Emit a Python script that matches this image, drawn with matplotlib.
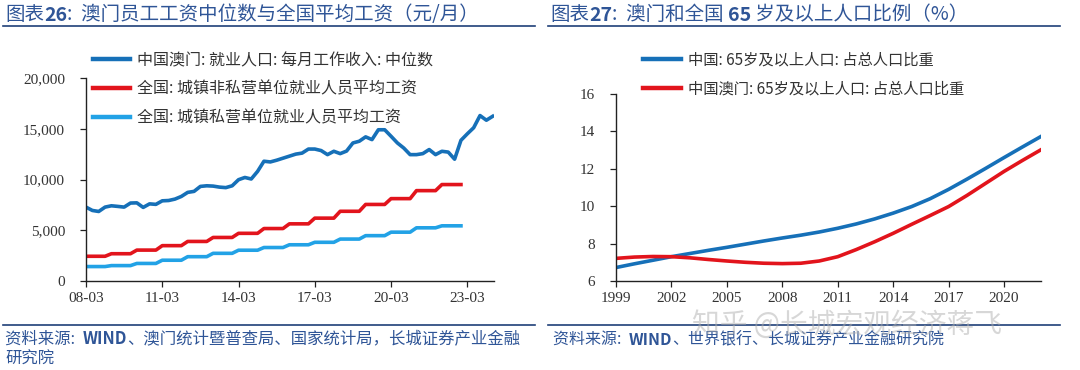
import numpy as np
import matplotlib
matplotlib.use("Agg")
import matplotlib.pyplot as plt
from matplotlib.lines import Line2D

# ---------------- data ----------------
# Macau median monthly income of employed population (MOP), quarterly 2008Q1..2024Q1
macau_median = [7280, 6950, 6850, 7280, 7410, 7350, 7280, 7680, 7700, 7250,
                7600, 7550, 7900, 7930, 8070, 8330, 8730, 8830, 9320, 9380,
                9350, 9250, 9200, 9380, 9980, 10200, 10050, 10800, 11800, 11730,
                11900, 12100, 12300, 12500, 12600, 13000, 13000, 12850, 12450, 12780,
                12550, 12800, 13600, 13770, 14200, 13930, 14900, 14900, 14260, 13600,
                13100, 12450, 12450, 12550, 12950, 12450, 12780, 12700, 12000, 13860,
                14500, 15100, 16300, 15840, 16230]
# National average monthly wage (yuan/month), annual 2008..2022
wage_years = list(range(2008, 2023))
nonprivate_wage = [2436, 2687, 3045, 3483, 3897, 4290, 4697, 5169, 5631, 6193,
                   6868, 7542, 8115, 8903, 9502]
private_wage = [1423, 1517, 1730, 2046, 2396, 2726, 3033, 3299, 3569, 3813,
                4131, 4467, 4811, 5240, 5436]
left_yticks = [0, 5000, 10000, 15000, 20000]
left_yticklabels = ["0", "5,000", "10,000", "15,000", "20,000"]
left_xticklabels = ["08-03", "11-03", "14-03", "17-03", "20-03", "23-03"]
left_labels = ["中国澳门: 就业人口: 每月工作收入: 中位数",
               "全国: 城镇非私营单位就业人员平均工资",
               "全国: 城镇私营单位就业人员平均工资"]

# Share of population aged 65+ (%)
pop_years = list(range(1999, 2023))
china_65 = [6.72, 6.92, 7.11, 7.30, 7.47, 7.64, 7.80, 7.97, 8.14, 8.30,
            8.45, 8.62, 8.82, 9.05, 9.32, 9.63, 9.98, 10.40, 10.90, 11.45,
            12.02, 12.60, 13.17, 13.73]
macau_65 = [7.21, 7.28, 7.31, 7.30, 7.24, 7.15, 7.07, 7.00, 6.95, 6.93,
            6.95, 7.07, 7.30, 7.68, 8.10, 8.55, 9.03, 9.50, 9.98, 10.58,
            11.22, 11.86, 12.45, 13.02]
right_yticks = [6, 8, 10, 12, 14, 16]
right_xticks = [1999, 2002, 2005, 2008, 2011, 2014, 2017, 2020]
right_labels = ["中国: 65岁及以上人口: 占总人口比重",
                "中国澳门: 65岁及以上人口: 占总人口比重"]

# ---------------- style ----------------
SERIF = ["Liberation Serif", "Noto Sans CJK SC"]
CJK = ["Noto Sans CJK SC", "DejaVu Sans"]
plt.rcParams["font.family"] = SERIF
BLUE_D = "#1670b8"
RED = "#e2141c"
BLUE_L = "#22a2e6"
TXT_BLUE = "#2f5597"
LINE_BLUE = "#1f3f78"

W, H = 1080, 370
fig = plt.figure(figsize=(W / 100, H / 100), dpi=100)


def fx(px):
    return px / W


def fy(py):
    return 1 - py / H


def style_axes(ax):
    for s in ["top", "right"]:
        ax.spines[s].set_visible(False)
    for s in ["left", "bottom"]:
        ax.spines[s].set_linewidth(1.0)
        ax.spines[s].set_color("#222222")
    ax.tick_params(axis="both", direction="out", length=4, width=0.9,
                   colors="#222222", labelsize=11, labelcolor="#333333")
    ax.tick_params(axis="y", pad=11)
    ax.tick_params(axis="x", pad=4)


# ---------------- left chart ----------------
axL = fig.add_axes([fx(86), fy(281), fx(494 - 86), fy(78) - fy(281)])
q = np.arange(len(macau_median))
qw = np.arange(len(wage_years) * 4)
axL.plot(q, macau_median, color=BLUE_D, lw=2.6, solid_joinstyle="round")
axL.plot(qw, np.repeat(nonprivate_wage, 4), color=RED, lw=2.6, solid_joinstyle="round")
axL.plot(qw, np.repeat(private_wage, 4), color=BLUE_L, lw=2.6, solid_joinstyle="round")
axL.set_xlim(0, 64.2)
axL.set_ylim(0, 20000)
axL.set_yticks(left_yticks)
axL.set_yticklabels(left_yticklabels)
axL.set_xticks(np.arange(0, 61, 12))
axL.set_xticklabels(left_xticklabels)
style_axes(axL)

handlesL = [Line2D([], [], color=c, lw=3.2) for c in (BLUE_D, RED, BLUE_L)]
fig.legend(handlesL, left_labels, loc="upper left",
           bbox_to_anchor=(fx(93), fy(52)), frameon=False, borderpad=0,
           borderaxespad=0, handlelength=2.3, handletextpad=0.45,
           labelspacing=0.74, prop={"family": CJK, "size": 11.5},
           labelcolor="#333333")

# ---------------- right chart ----------------
axR = fig.add_axes([fx(616), fy(281), fx(1041 - 616), fy(94) - fy(281)])
axR.plot(pop_years, china_65, color=BLUE_D, lw=2.6, solid_joinstyle="round")
axR.plot(pop_years, macau_65, color=RED, lw=2.6, solid_joinstyle="round")
axR.set_xlim(1999, 2022)
axR.set_ylim(6, 16)
axR.set_yticks(right_yticks)
axR.set_xticks(right_xticks)
style_axes(axR)

handlesR = [Line2D([], [], color=c, lw=3.2) for c in (BLUE_D, RED)]
fig.legend(handlesR, right_labels, loc="upper left",
           bbox_to_anchor=(fx(643), fy(51)), frameon=False, borderpad=0,
           borderaxespad=0, handlelength=2.5, handletextpad=0.45,
           labelspacing=0.82, prop={"family": CJK, "size": 11},
           labelcolor="#333333")


# ---------------- titles / sources (chained pieces) ----------------
def chain(x, y, parts, size, color):
    prev = fig.text(fx(x), fy(y), parts[0][0], ha="left", va="bottom", color=color,
                    fontsize=size, family=CJK,
                    fontweight="bold" if parts[0][1] else "normal",
                    style="italic")
    for txt, bold in parts[1:]:
        prev = fig.add_artist(matplotlib.text.Annotation(
            txt, xy=(1, 0), xycoords=prev, va="bottom", ha="left", color=color,
            fontsize=size, family=CJK,
            fontweight="bold" if bold else "normal",
            style="italic", annotation_clip=False))
    return prev


chain(5, 25, [("图表", False), ("26", True),
              (":  澳门员工工资中位数与全国平均工资（元/月）", False)], 14, TXT_BLUE)
chain(550, 25, [("图表", False), ("27", True), (":  澳门和全国 ", False),
                ("65", True), (" 岁及以上人口比例（%）", False)], 14, TXT_BLUE)

# header / footer rules
for (x0, x1) in [(3, 535), (548, 1060)]:
    fig.add_artist(Line2D([fx(x0), fx(x1)], [fy(26), fy(26)], color=LINE_BLUE, lw=1.2))
    fig.add_artist(Line2D([fx(x0), fx(x1)], [fy(325), fy(325)], color=LINE_BLUE, lw=1.2))

chain(5, 348, [("资料来源:  ", False), ("WIND", True),
               ("、澳门统计暨普查局、国家统计局，长城证券产业金融", False)], 11.8, TXT_BLUE)
fig.text(fx(5), fy(368), "研究院", ha="left", va="bottom", color=TXT_BLUE,
         fontsize=11.8, family=CJK, style="italic")
chain(553, 348, [("资料来源:  ", False), ("WIND", True),
                 ("、世界银行、长城证券产业金融研究院", False)], 11.5, TXT_BLUE)

# watermark (overlaps the footer, as in the reference)
fig.text(fx(692), fy(325), "知乎 @长城宏观经济蒋飞", ha="left", va="center",
         fontsize=20, family=CJK, color="#b0b0b0", alpha=0.5)

fig.savefig("out.png", dpi=100)
